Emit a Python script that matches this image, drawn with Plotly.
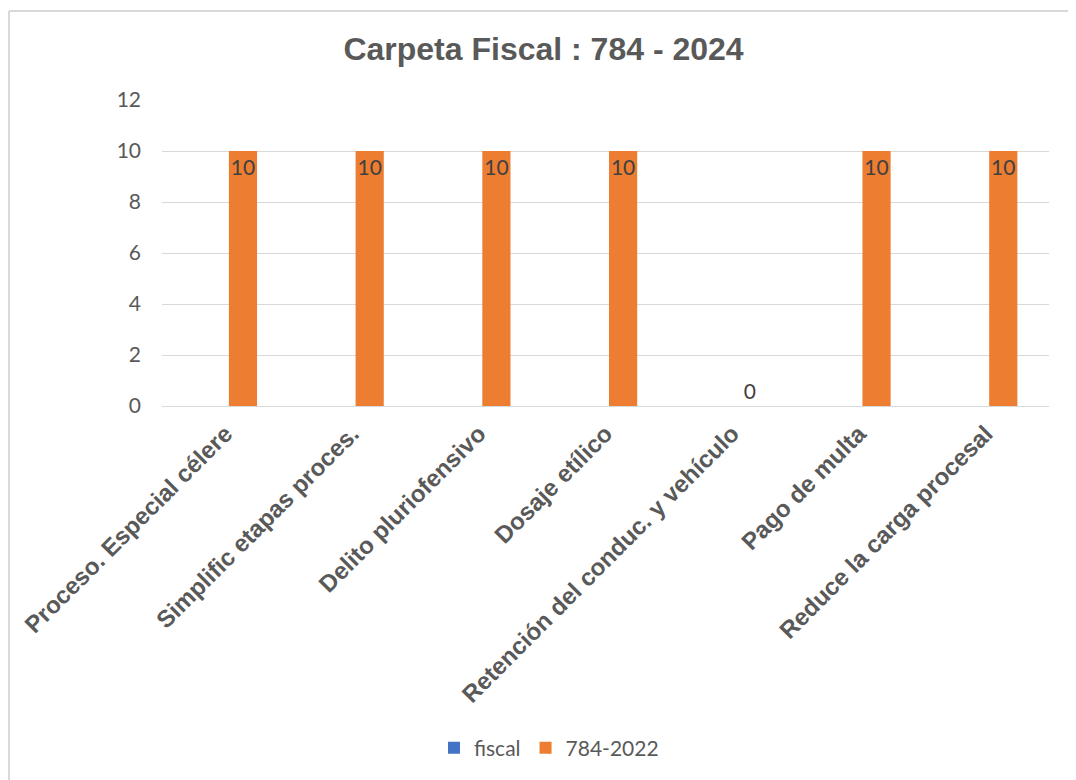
import plotly.graph_objects as go

categories = [
    "Proceso. Especial célere",
    "Simplific etapas proces.",
    "Delito pluriofensivo",
    "Dosaje etílico",
    "Retención del conduc. y vehículo",
    "Pago de multa",
    "Reduce la carga procesal",
]
fiscal_values = [None, None, None, None, None, None, None]
serie_values = [10, 10, 10, 10, 0, 10, 10]
y_ticks = [0, 2, 4, 6, 8, 10, 12]

GREY = "#595959"
W, H = 1076, 780
OFF = 8  # page body margin
ML, MR, MT, MB = 162 - OFF, W - (1049 - OFF), 100 - OFF, H - (406 - OFF)

fig = go.Figure()
fig.add_trace(go.Bar(
    name="fiscal", x=categories, y=fiscal_values,
    marker=dict(color="#4472C4", line=dict(width=0)),
))
fig.add_trace(go.Bar(
    name="784-2022", x=categories, y=serie_values,
    marker=dict(color="#ED7D31", line=dict(width=0)),
    text=[str(v) for v in serie_values],
    textposition=["inside" if v > 0 else "outside" for v in serie_values],
    insidetextanchor="end",
    constraintext="none",
    textfont=dict(family="Lato", size=21, color="#404040"),
    cliponaxis=False,
))

pw = W - ML - MR
ph = H - MT - MB
# chart frame (left and top edges visible; right/bottom cropped)
x0 = (8 - OFF - ML + 1) / pw
y1 = (H - MB - (10 - OFF) - 1) / ph
fig.add_shape(type="line", xref="paper", yref="paper", x0=x0, x1=x0, y0=-5, y1=y1,
              line=dict(color="#d9d9d9", width=2))
fig.add_shape(type="line", xref="paper", yref="paper", x0=x0, x1=5, y0=y1, y1=y1,
              line=dict(color="#d9d9d9", width=2))

fig.update_layout(
    width=W, height=H,
    margin=dict(l=ML, r=MR, t=MT, b=MB),
    paper_bgcolor="white", plot_bgcolor="white",
    barmode="group", bargap=0.444, bargroupgap=0.2,
    title=dict(text="Carpeta Fiscal : 784 - 2024", x=(543.5 - OFF) / W, xanchor="center",
               y=1 - (49 - OFF) / H, yanchor="middle",
               font=dict(family="Liberation Sans, Arial", size=32, color=GREY, weight="bold")),
    showlegend=True,
    legend=dict(orientation="h", x=(549 - OFF - ML) / pw, xanchor="center",
                y=(H - MB - (748 - OFF)) / ph, yanchor="middle",
                font=dict(family="Lato", size=21, color=GREY),
                itemwidth=30, tracegroupgap=0),
    xaxis=dict(tickangle=-45, showgrid=False, showline=False, ticks="",
               ticklabelstandoff=8,
               tickfont=dict(family="Liberation Sans, Arial", size=24, color=GREY, weight="bold")),
    yaxis=dict(range=[0, 12], tickvals=y_ticks, showgrid=True, gridcolor="#d9d9d9", gridwidth=1.3,
               zeroline=True, zerolinecolor="#d9d9d9", zerolinewidth=1.3, showline=False,
               ticklabelstandoff=20,
               tickfont=dict(family="Lato", size=21, color=GREY)),
)

fig.write_html("out.html")
